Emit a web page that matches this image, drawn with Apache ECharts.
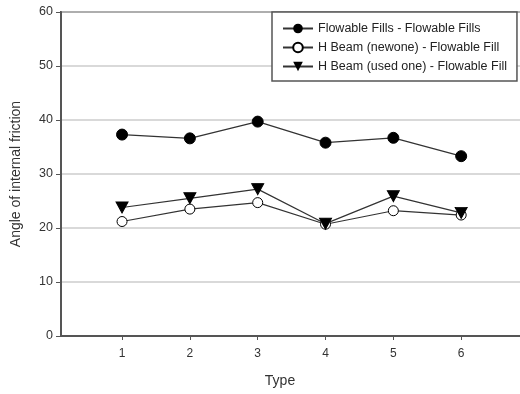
<!DOCTYPE html>
<html>
<head>
<meta charset="utf-8">
<script src="https://cdn.jsdelivr.net/npm/echarts@6/dist/echarts.min.js"></script>
<style>
html, body { margin: 0; padding: 0; background: #fff; }
#chart { width: 520px; height: 394px; }
</style>
</head>
<body>
<div id="chart"></div>
<script>
var types = [1, 2, 3, 4, 5, 6];
var flowableFills = [37.3, 36.6, 39.7, 35.8, 36.7, 33.3];
var hBeamNew = [21.2, 23.5, 24.7, 20.7, 23.2, 22.4];
var hBeamUsed = [23.8, 25.5, 27.2, 20.8, 25.9, 22.8];
var seriesNames = [
    'Flowable Fills - Flowable Fills',
    'H Beam (newone) - Flowable Fill',
    'H Beam (used one) - Flowable Fill'
];

function pairs(ys) {
    return types.map(function(t, i) { return [t, ys[i]]; });
}

var font = 'Liberation Sans, Arial, sans-serif';
var chart = echarts.init(document.getElementById('chart'));

chart.setOption({
    animation: false,
    textStyle: { fontFamily: font },
    grid: {
        left: 61, top: 12, right: -9, bottom: 58,
        outerBoundsMode: 'none',
        show: true, borderColor: '#555', borderWidth: 2
    },
    legend: {
        orient: 'vertical',
        left: 272, top: 12,
        padding: [10, 10, 8, 10],
        itemGap: 6,
        itemWidth: 30, itemHeight: 12,
        backgroundColor: '#fff',
        borderColor: '#555', borderWidth: 1.5,
        textStyle: { fontFamily: font, fontSize: 12.5, color: '#222' },
        data: seriesNames
    },
    xAxis: {
        type: 'value',
        min: 0.1, max: 7,
        name: 'Type',
        nameLocation: 'middle',
        nameGap: 38,
        nameTextStyle: { fontSize: 14, color: '#333', padding: [0, 0, 0, -30] },
        axisLine: { lineStyle: { color: '#555', width: 2 } },
        axisTick: { show: true, length: 4, customValues: types, lineStyle: { color: '#555' } },
        axisLabel: { customValues: types, color: '#333', fontSize: 12, margin: 12 },
        splitLine: { show: false }
    },
    yAxis: {
        type: 'value',
        min: 0, max: 60, interval: 10,
        name: 'Angle of internal friction',
        nameLocation: 'middle',
        nameGap: 38,
        nameTextStyle: { fontSize: 14, color: '#333' },
        axisLine: { show: true, lineStyle: { color: '#555', width: 2 } },
        axisTick: { show: true, length: 5, lineStyle: { color: '#555' } },
        axisLabel: { color: '#333', fontSize: 12.5, margin: 8 },
        splitLine: { show: true, lineStyle: { color: '#ccc', width: 1.5 } }
    },
    series: [
        {
            name: seriesNames[0], type: 'line',
            data: pairs(flowableFills),
            symbol: 'circle', symbolSize: 11,
            lineStyle: { color: '#333', width: 1.2 },
            itemStyle: { color: '#000', borderColor: '#000' }
        },
        {
            name: seriesNames[1], type: 'line',
            data: pairs(hBeamNew),
            symbol: 'circle', symbolSize: 10,
            lineStyle: { color: '#333', width: 1.2 },
            itemStyle: { color: '#fff', borderColor: '#000', borderWidth: 1 }
        },
        {
            name: seriesNames[2], type: 'line',
            data: pairs(hBeamUsed),
            symbol: 'triangle', symbolRotate: 180, symbolSize: [12, 11],
            lineStyle: { color: '#333', width: 1.2 },
            itemStyle: { color: '#000', borderColor: '#000' }
        }
    ]
});
</script>
</body>
</html>
